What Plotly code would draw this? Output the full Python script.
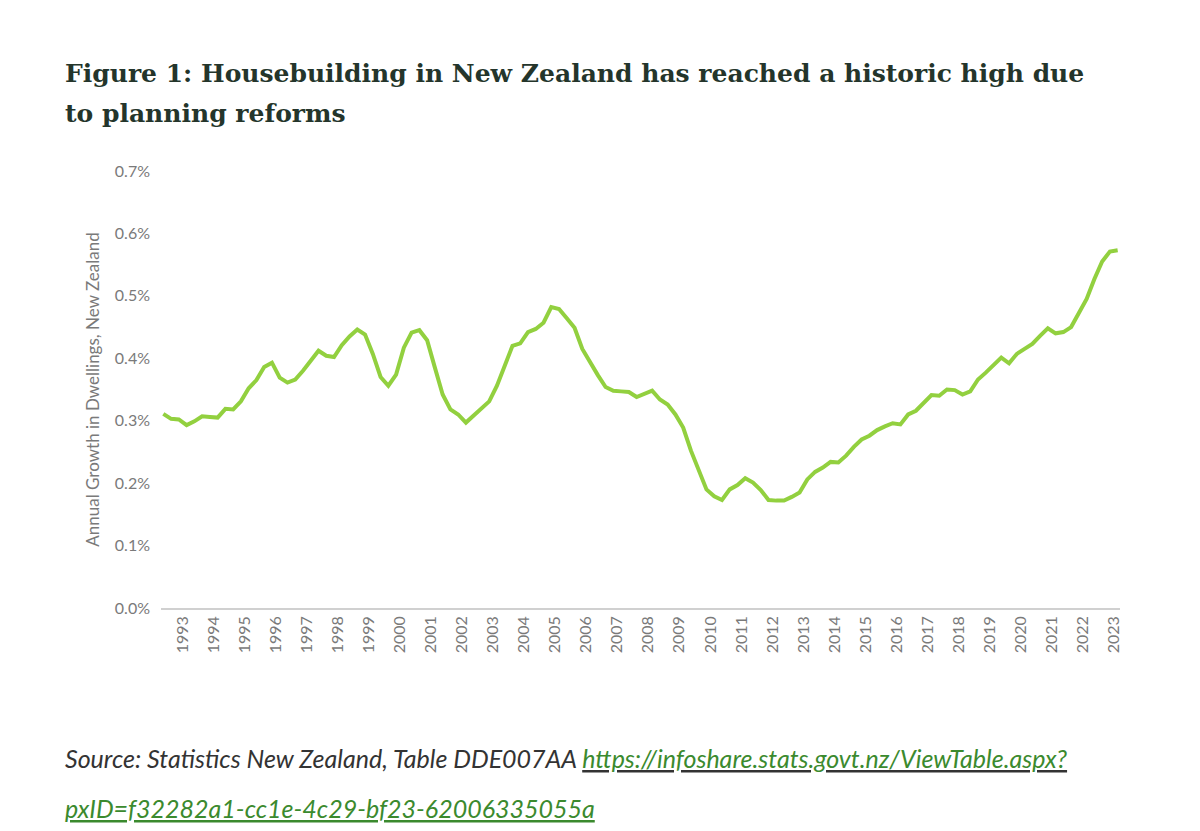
import plotly.graph_objects as go

start_year = 1992.375
values = [0.311,0.303,0.302,0.293,0.299,0.307,0.306,0.305,0.319,0.318,
          0.331,0.352,0.365,0.386,0.393,0.369,0.361,0.366,0.380,0.397,
          0.412,0.404,0.402,0.421,0.435,0.446,0.438,0.407,0.370,0.356,
          0.374,0.417,0.441,0.445,0.429,0.385,0.342,0.318,0.310,0.297,
          0.308,0.319,0.331,0.356,0.388,0.420,0.424,0.442,0.447,0.457,
          0.482,0.479,0.464,0.449,0.415,0.393,0.373,0.354,0.348,0.347,
          0.346,0.338,0.343,0.348,0.334,0.326,0.310,0.289,0.252,0.220,
          0.190,0.179,0.173,0.190,0.197,0.208,0.201,0.189,0.173,0.172,
          0.172,0.178,0.185,0.206,0.218,0.225,0.234,0.233,0.244,0.258,
          0.270,0.276,0.285,0.291,0.296,0.294,0.310,0.316,0.329,0.341,
          0.340,0.350,0.349,0.342,0.347,0.366,0.377,0.390,0.401,0.392,
          0.407,0.415,0.423,0.436,0.448,0.440,0.442,0.450,0.471,0.495,
          0.527,0.555,0.571,0.573]
x = [start_year + 0.25 * i for i in range(len(values))]
tick_years = list(range(1993, 2024))
y_ticks = [0.0, 0.1, 0.2, 0.3, 0.4, 0.5, 0.6, 0.7]

L, R, T, B = 153, 88, 163, 231
W, H = 1200, 831
pw, ph = W - L - R, H - T - B
def px(xp): return (xp - L) / pw
def py(yp): return (H - B - yp) / ph

fig = go.Figure(go.Scatter(x=x, y=values, mode="lines",
                           line=dict(color="#92d03f", width=4), hoverinfo="skip"))
gray = "#7a7a7a"
fig.update_layout(
    width=W, height=H, paper_bgcolor="white", plot_bgcolor="white",
    margin=dict(l=L, r=R, t=T, b=B), showlegend=False,
    font=dict(family="Lato", color=gray),
    xaxis=dict(range=[1992.3, 2023.2], tickvals=tick_years, ticktext=[str(t) for t in tick_years],
               tickangle=-90, tickfont=dict(size=16, color=gray), showgrid=False,
               showline=True, linecolor="#d0d0d0", linewidth=1.5, ticks="", zeroline=False),
    yaxis=dict(range=[0, 0.7], tickvals=y_ticks, ticktext=[f"{v:.1f}%" for v in y_ticks],
               tickfont=dict(size=16, color=gray), showgrid=False, zeroline=False,
               ticks="", ticklabelstandoff=10,
               title=dict(text="Annual Growth in Dwellings, New Zealand", font=dict(size=17, color=gray), standoff=10)),
)
title_lines = ["Figure 1: Housebuilding in New Zealand has reached a historic high due",
               "to planning reforms"]
for i, t in enumerate(title_lines):
    fig.add_annotation(xref="paper", yref="paper", x=px(55), y=py(65 + 40 * i), xanchor="left", yanchor="middle",
                       showarrow=False, text=f"<b>{t}</b>",
                       font=dict(family="DejaVu Serif", size=25, color="#24352b"))
fig.add_annotation(xref="paper", yref="paper", x=px(55), y=py(750), xanchor="left", yanchor="middle",
                   align="left", showarrow=False,
                   text="<i>Source: Statistics New Zealand, Table DDE007AA <u><span style='color:#3b8a2e'>https://infoshare.stats.govt.nz/ViewTable.aspx?</span></u></i>",
                   font=dict(family="Lato", size=25, color="#333333"))
fig.add_annotation(xref="paper", yref="paper", x=px(55), y=py(800), xanchor="left", yanchor="middle",
                   align="left", showarrow=False,
                   text="<i><u>pxID=f32282a1-cc1e-4c29-bf23-62006335055a</u></i>",
                   font=dict(family="Lato", size=25, color="#3b8a2e"))
fig.write_html("out.html")
